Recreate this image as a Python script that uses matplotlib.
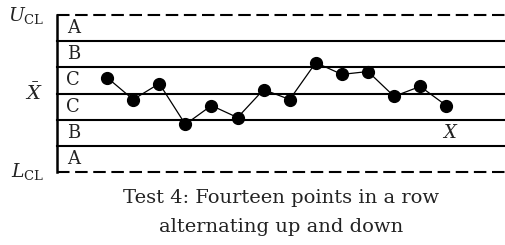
import numpy as np
import matplotlib.pyplot as plt

# control chart values in sigma units, 14 points
points = np.arange(1, 15)
values = [0.61, -0.23, 0.38, -1.18, -0.46, -0.92, 0.15, -0.23, 1.18, 0.73, 0.84, -0.11, 0.27, -0.46]
zones = ['A', 'B', 'C', 'C', 'B', 'A']
zone_centers = [2.5, 1.5, 0.5, -0.5, -1.5, -2.5]
caption = ['Test 4: Fourteen points in a row', 'alternating up and down']

plt.rcParams['mathtext.fontset'] = 'dejavuserif'
plt.rcParams['font.family'] = 'DejaVu Serif'

txt = '#222222'
fig = plt.figure(figsize=(5.06, 2.45), dpi=100)
ax = fig.add_axes([57 / 506, 73 / 245, 449 / 506, 157 / 245])
ax.set_xlim(-0.92, 16.29)
ax.set_ylim(-3, 3)
ax.axis('off')

for yv in [-2, -1, 0, 1, 2]:
    ax.axhline(yv, color='black', lw=1.5, clip_on=False)
for yv in [3, -3]:
    ax.axhline(yv, color='black', lw=1.5, ls=(0, (6, 2.7)), clip_on=False)
ax.plot([-0.92, -0.92], [-3, 3], color='black', lw=1.8, clip_on=False)

ax.plot(points, values, color='black', lw=0.9, marker='o', ms=8.5, clip_on=False)

for z, c in zip(zones, zone_centers):
    ax.text(-0.3, c, z, fontsize=13, color=txt, ha='center', va='center')

ax.text(14.15, -1.5, '$X$', fontsize=13, color=txt, ha='center', va='center')

fig.text(44 / 506, 1 - 15 / 245, r'$U_{\mathrm{CL}}$', fontsize=13.5, color=txt, ha='right', va='center')
fig.text(43 / 506, 1 - 93 / 245, r'$\bar{X}$', fontsize=14, color=txt, ha='right', va='center')
fig.text(44 / 506, 1 - 172 / 245, r'$L_{\mathrm{CL}}$', fontsize=13.5, color=txt, ha='right', va='center')

for line, yp in zip(caption, [198, 227]):
    fig.text(281.5 / 506, 1 - yp / 245, line, fontsize=14, color=txt, ha='center', va='center')

fig.savefig('out.png', dpi=100)
